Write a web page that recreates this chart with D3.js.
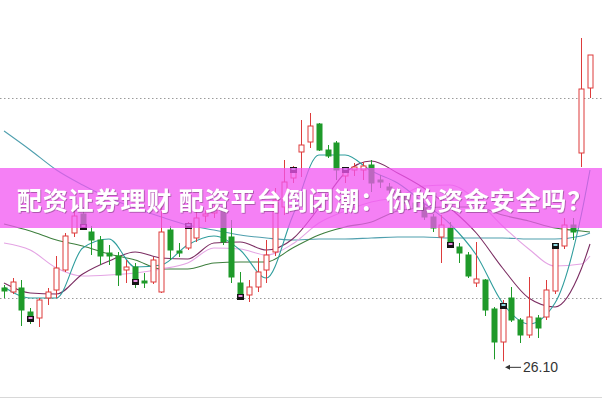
<!DOCTYPE html>
<html lang="zh">
  <head>
    <meta charset="UTF-8" />
    <script src="https://d3js.org/d3.v7.min.js"></script>
    <title>K线</title>
    <style>
      body { margin: 0; background: #fff; }
    </style>
  </head>
  <body>
    <svg id="chart" width="602" height="399"></svg>
  </body>
  <script>
    // daily candles, prices
    var opens = [28.30, 28.18, 28.30, 27.58, 27.40, 28.00, 28.24, 28.84, 29.95, 30.52, 29.98, 29.74, 29.35, 29.26, 28.84, 28.93, 28.51, 28.48, 28.18, 30.04, 29.41, 29.50, 29.80, 30.46, 30.55, 30.73, 29.83, 28.45, 28.09, 28.33, 28.84, 29.38, 30.73, 31.60, 32.38, 32.68, 33.22, 32.44, 32.65, 31.66, 31.84, 31.84, 31.99, 31.54, 31.33, 31.18, 31.03, 30.85, 30.70, 30.43, 29.83, 30.10, 29.53, 29.29, 28.45, 28.54, 27.67, 26.68, 28.00, 27.34, 26.89, 27.40, 27.43, 28.21, 29.56, 30.19, 32.35, 34.30];
    var highs = [28.39, 28.60, 28.54, 27.70, 28.00, 28.30, 29.26, 29.95, 30.70, 30.73, 30.16, 29.86, 29.59, 29.38, 29.14, 29.05, 28.75, 29.23, 30.79, 30.16, 29.65, 30.28, 30.64, 30.64, 30.79, 30.85, 30.34, 28.78, 28.54, 29.20, 29.74, 31.30, 32.14, 31.96, 33.34, 33.55, 33.25, 32.59, 32.71, 31.90, 32.05, 32.08, 32.14, 31.69, 31.45, 31.30, 31.15, 31.00, 30.82, 30.52, 30.49, 30.28, 29.65, 29.38, 29.68, 28.57, 27.73, 27.94, 28.33, 27.40, 28.63, 27.49, 28.54, 29.65, 30.40, 30.40, 35.80, 35.29];
    var lows = [28.00, 28.12, 27.16, 27.22, 27.13, 27.79, 28.00, 28.78, 29.83, 30.07, 29.29, 28.99, 28.99, 28.36, 28.45, 28.30, 28.30, 28.42, 28.15, 29.14, 29.23, 29.44, 29.68, 30.28, 30.40, 29.59, 28.45, 28.00, 27.88, 28.18, 28.45, 29.26, 30.49, 31.45, 31.63, 32.50, 32.41, 32.20, 31.54, 31.45, 31.66, 31.54, 31.18, 31.30, 31.09, 30.94, 30.76, 30.58, 30.34, 29.98, 29.05, 29.50, 29.05, 28.60, 28.33, 27.46, 26.16, 26.10, 27.28, 26.65, 26.80, 26.80, 27.34, 28.12, 29.47, 29.74, 31.93, 34.00];
    var closes = [28.21, 28.48, 27.64, 27.40, 27.94, 28.18, 28.90, 29.86, 30.46, 30.16, 29.74, 29.26, 29.26, 28.69, 28.93, 28.51, 28.45, 29.14, 29.98, 29.44, 29.35, 30.10, 30.40, 30.52, 30.70, 29.68, 28.63, 28.06, 28.33, 28.78, 29.29, 30.94, 31.48, 31.78, 32.59, 33.16, 32.44, 32.26, 31.84, 31.78, 31.93, 31.96, 31.45, 31.48, 31.24, 31.03, 30.85, 30.70, 30.43, 30.10, 30.19, 29.62, 29.35, 28.66, 28.57, 27.64, 26.68, 27.70, 27.34, 26.89, 27.43, 27.10, 28.24, 29.50, 30.19, 29.98, 34.27, 35.29];

    // signal boxes
    var markerIdx = [3, 9, 15, 21, 27, 33, 39, 51, 57, 63];
    var markerTop = [false, false, false, true, false, true, true, false, true, true];

    // moving averages, sampled every third day
    var maIdx = [0, 3, 6, 9, 12, 15, 18, 21, 24, 27, 30, 33, 36, 39, 42, 45, 48, 51, 54, 57, 60, 63, 66, 67];
    var ma5 = [28.33, 28.00, 28.00, 29.50, 29.77, 28.93, 28.99, 29.59, 29.86, 29.44, 28.60, 30.46, 32.29, 32.29, 31.81, 31.45, 30.85, 30.22, 29.29, 27.85, 27.22, 27.85, 30.49, 31.84];
    var ma10 = [28.45, 28.15, 28.12, 28.72, 29.11, 29.38, 29.20, 29.17, 29.65, 29.68, 29.44, 29.77, 30.70, 31.75, 32.11, 31.75, 31.30, 30.70, 29.95, 28.90, 28.00, 27.73, 28.87, 29.62];
    var ma20 = [29.65, 29.44, 28.90, 28.66, 28.69, 28.75, 28.87, 29.05, 29.50, 29.47, 29.29, 29.62, 30.25, 30.61, 30.88, 31.03, 31.36, 31.39, 30.94, 30.16, 29.47, 28.96, 29.02, 29.26];
    var ma30 = [30.22, 30.01, 29.74, 29.56, 29.32, 29.14, 28.87, 28.87, 29.05, 29.08, 29.08, 29.50, 29.89, 30.13, 30.28, 30.61, 30.70, 30.73, 30.73, 30.49, 30.31, 30.10, 30.01, 29.98];
    var ma60 = [33.01, 32.44, 31.84, 31.39, 31.00, 30.70, 30.43, 30.19, 30.04, 29.89, 29.80, 29.74, 29.77, 29.77, 29.80, 29.83, 29.83, 29.80, 29.80, 29.80, 29.77, 29.77, 29.86, 29.95];

    var gridPrices = [28, 34];
    var title = "配资证券理财 配资平台倒闭潮：你的资金安全吗？";

    var svg = d3.select("#chart"),
      width = +svg.attr("width"),
      height = +svg.attr("height");

    var x = d3.scaleLinear().domain([0, opens.length - 1]).range([4, 590]);
    var y = d3.scaleLinear().domain([28, 34]).range([298, 98]);

    var upColor = "#dd3b3b",
      downColor = "#1f9a2a";

    svg.append("rect").attr("width", width).attr("height", height).attr("fill", "#fff");

    // soft shadow for the banner text
    var f = svg.append("defs").append("filter").attr("id", "sh").attr("x", "-5%").attr("y", "-30%").attr("width", "110%").attr("height", "160%");
    f.append("feDropShadow")
      .attr("dx", 0.8)
      .attr("dy", 0.8)
      .attr("stdDeviation", 0.7)
      .attr("flood-color", "#5a2a5a")
      .attr("flood-opacity", 0.55);

    // dotted price lines
    svg
      .selectAll(".grid")
      .data(gridPrices)
      .enter()
      .append("line")
      .attr("x1", 0)
      .attr("x2", width)
      .attr("y1", (d) => Math.round(y(d)) + 0.5)
      .attr("y2", (d) => Math.round(y(d)) + 0.5)
      .attr("stroke", "#9a9a9a")
      .attr("stroke-dasharray", "1.5,2.5");

    svg
      .append("line")
      .attr("x1", 0)
      .attr("x2", width)
      .attr("y1", height - 1.5)
      .attr("y2", height - 1.5)
      .attr("stroke", "#d8d8d8");

    // moving average lines
    var lines = [
      { v: ma60, c: "#4f9fae" },
      { v: ma30, c: "#3e7f3e" },
      { v: ma20, c: "#e4a4e4" },
      { v: ma10, c: "#7b2d62" },
      { v: ma5, c: "#2f9d9d" },
    ];
    var lineGen = d3
      .line()
      .x((d, i) => x(maIdx[i]))
      .y((d) => y(d))
      .curve(d3.curveMonotoneX);

    svg
      .append("g")
      .selectAll("path")
      .data(lines)
      .enter()
      .append("path")
      .attr("d", (d) => lineGen(d.v))
      .attr("fill", "none")
      .attr("stroke", (d) => d.c)
      .attr("stroke-width", 1.1);

    // candles
    var candles = opens.map((o, i) => ({ i: i, o: o, h: highs[i], l: lows[i], c: closes[i] }));
    var g = svg.append("g").selectAll("g").data(candles).enter().append("g");

    g.append("line")
      .attr("x1", (d) => Math.round(x(d.i)) + 0.5)
      .attr("x2", (d) => Math.round(x(d.i)) + 0.5)
      .attr("y1", (d) => y(d.h))
      .attr("y2", (d) => y(d.l))
      .attr("stroke", (d) => (d.c >= d.o ? upColor : downColor));

    g.append("rect")
      .attr("x", (d) => Math.round(x(d.i)) - 2)
      .attr("width", 5)
      .attr("y", (d) => y(Math.max(d.o, d.c)))
      .attr("height", (d) => Math.max(1, Math.abs(y(d.o) - y(d.c))))
      .attr("fill", (d) => (d.c >= d.o ? "#fff" : downColor))
      .attr("stroke", (d) => (d.c >= d.o ? upColor : downColor));

    // small signal boxes
    var mk = svg
      .append("g")
      .selectAll("g")
      .data(markerIdx)
      .enter()
      .append("g")
      .attr("transform", function (d, k) {
        var top = Math.max(opens[d], closes[d]),
          bot = Math.min(opens[d], closes[d]);
        var yy = markerTop[k] ? y(top) - 5 : y(bot) - 2;
        return "translate(" + (Math.round(x(d)) - 3) + "," + yy + ")";
      });
    mk.append("rect").attr("width", 7).attr("height", 6).attr("fill", "#151515");
    mk.append("rect")
      .attr("x", 1.5)
      .attr("y", 1)
      .attr("width", 4)
      .attr("height", 2)
      .attr("fill", (d, k) => (markerTop[k] ? "#8fd8e0" : "#e890e0"));

    // lowest price label
    var lowI = d3.minIndex(lows);
    var lx = Math.round(x(lowI)) + 2,
      ly = y(lows[lowI]) + 6;
    svg
      .append("line")
      .attr("x1", lx + 2)
      .attr("x2", lx + 16)
      .attr("y1", ly)
      .attr("y2", ly)
      .attr("stroke", "#333");
    svg
      .append("path")
      .attr("d", "M" + lx + "," + ly + "l5,-2.5l0,5z")
      .attr("fill", "#333");
    svg
      .append("text")
      .attr("x", lx + 18)
      .attr("y", ly)
      .attr("dominant-baseline", "central")
      .style("font-family", "Liberation Sans, Arial, sans-serif")
      .style("font-size", "14px")
      .style("fill", "#333")
      .text(lows[lowI].toFixed(2));

    // title banner
    svg
      .append("rect")
      .attr("x", 0)
      .attr("y", 168)
      .attr("width", width)
      .attr("height", 60)
      .attr("fill", "rgb(242,86,242)")
      .attr("fill-opacity", 0.75);

    svg
      .append("text")
      .attr("x", width / 2 + 4)
      .attr("y", 199)
      .attr("text-anchor", "middle")
      .attr("dominant-baseline", "central")
      .attr("filter", "url(#sh)")
      .style("font-family", "Noto Sans CJK SC, sans-serif")
      .style("font-weight", "bold")
      .style("font-size", "25px")
      .style("letter-spacing", "0.9px")
      .style("fill", "#fff")
      .text(title);
  </script>
</html>
